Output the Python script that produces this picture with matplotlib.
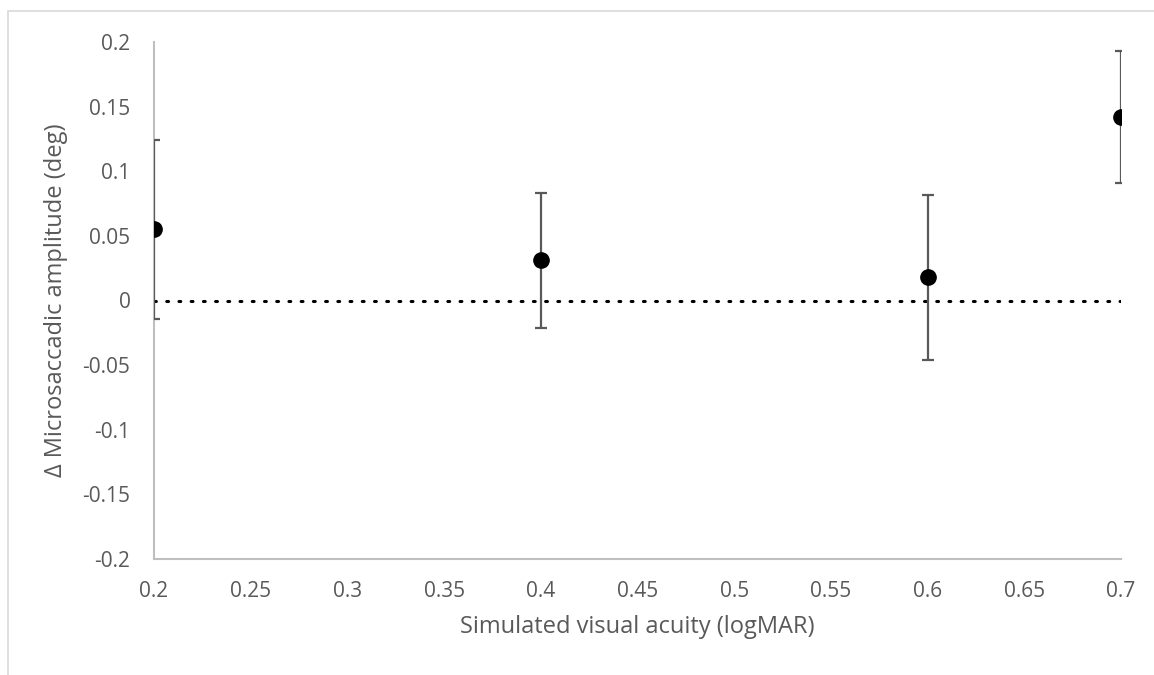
import matplotlib
matplotlib.use("Agg")
import matplotlib.pyplot as plt
from matplotlib.patches import Rectangle

acuity    = [0.2, 0.4, 0.6, 0.7]
amp_delta = [0.055, 0.031, 0.018, 0.142]
amp_err   = [0.069, 0.052, 0.064, 0.051]

x_ticks = [0.2, 0.25, 0.3, 0.35, 0.4, 0.45, 0.5, 0.55, 0.6, 0.65, 0.7]
y_ticks = [-0.2, -0.15, -0.1, -0.05, 0, 0.05, 0.1, 0.15, 0.2]

plt.rcParams["font.family"] = ["Open Sans", "DejaVu Sans"]
grey = "#595959"

fig = plt.figure(figsize=(11.54, 6.75), dpi=100)
W, H = 1154, 675
ax = fig.add_axes([154 / W, 1 - 559 / H, (1121 - 154) / W, (559 - 42) / H])

# chart frame (excel style)
fig.patches.append(Rectangle((8 / W, -0.1), 1.2, 1 - 11 / H + 0.1, transform=fig.transFigure,
                             fill=False, edgecolor="#d9d9d9", linewidth=1.2))

ax.plot([x_ticks[0], x_ticks[-1]], [0, 0], color="black", linestyle=(0, (0.6, 3.4)),
        linewidth=2.2, dash_capstyle="round", zorder=1)

ax.errorbar(acuity, amp_delta, yerr=amp_err, fmt="o", color="black", markersize=11,
            ecolor=grey, elinewidth=1.6, capsize=4.5, capthick=1.6, zorder=3)

ax.set_xlim(x_ticks[0], x_ticks[-1])
ax.set_ylim(y_ticks[0], y_ticks[-1])
ax.set_xticks(x_ticks)
ax.set_xticklabels([f"{v:g}" for v in x_ticks])
ax.set_yticks(y_ticks)
ax.set_yticklabels([f"{v:g}" for v in y_ticks])
ax.tick_params(length=0, colors=grey, labelsize=15)
ax.tick_params(axis="y", pad=17)
ax.tick_params(axis="x", pad=16)

for side in ("top", "right"):
    ax.spines[side].set_visible(False)
for side in ("left", "bottom"):
    ax.spines[side].set_color("#bfbfbf")
    ax.spines[side].set_linewidth(1.5)

ax.set_xlabel("Simulated visual acuity (logMAR)", fontsize=17, color=grey, labelpad=9)
ax.set_ylabel("\u0394 Microsaccadic amplitude (deg)", fontsize=17, color=grey, labelpad=10)

fig.savefig("out.png", dpi=100)
